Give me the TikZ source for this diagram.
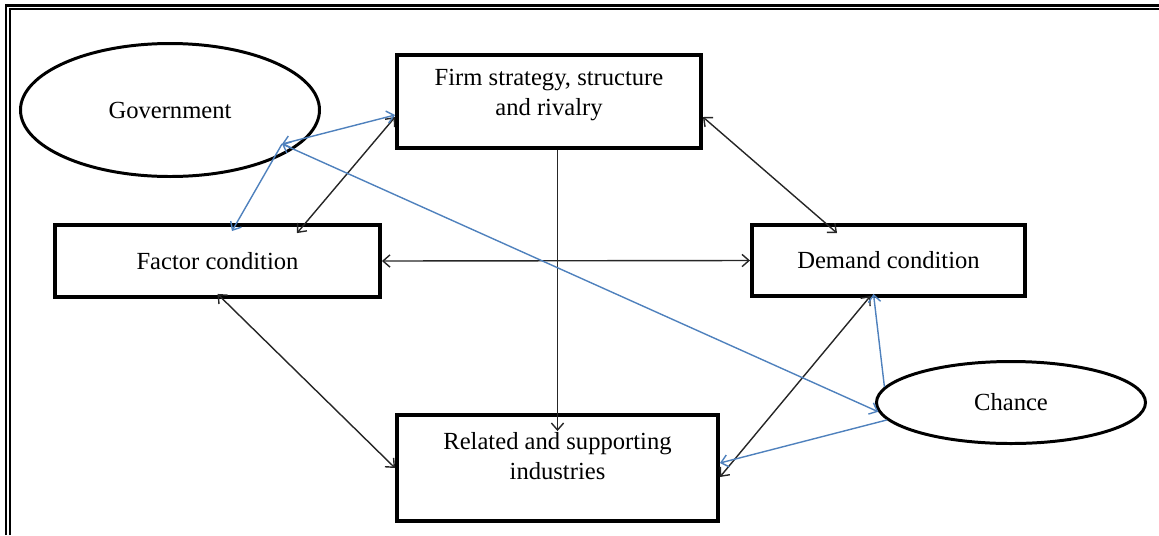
\documentclass[tikz,border=0pt]{standalone}
\usepackage{fontspec}
\setmainfont{Liberation Serif}
\usepackage{tikz}
\usetikzlibrary{calc,shapes.geometric,arrows.meta}
\definecolor{linkblue}{RGB}{79,129,189}

\begin{document}
\begin{tikzpicture}[
box/.style={
	draw, rectangle, line width=2.2pt,
	inner sep=0pt, align=center
},
oval/.style={
	draw, ellipse, line width=1.7pt,
	inner sep=0pt
},
txt/.style={align=center, inner sep=0pt},
link/.style={<->, line width=0.8pt, black!85},
bluelink/.style={line width=0.8pt, draw=linkblue},
>={Straight Barb[length=4pt,width=7pt]}, font=\fontsize{14}{17}\selectfont
]
\useasboundingbox (0,0) rectangle (23.18,-10.7);
% double frame
\draw[line width=1.3pt] (0.12,-10.7) |- (23.18,-0.11);
\draw[line width=0.8pt] (0.2,-10.7) |- (23.18,-0.18);

\node[box, minimum width=6.08cm, minimum height=1.86cm] (firm) at (10.98,-2.03) {};
\node[txt] (firmtext) at ([yshift=0.13cm]firm.center) {Firm strategy, structure\\and rivalry};
\node[box, minimum width=6.5cm, minimum height=1.44cm] (factor) at (4.35,-5.22) {Factor condition};
\node[box, minimum width=5.46cm, minimum height=1.42cm] (demand) at (17.77,-5.21) {Demand condition};
\node[box, minimum width=6.42cm, minimum height=2.12cm] (related) at (11.15,-9.36) {};
\node[txt] (relatedtext) at ([yshift=0.24cm]related.center) {Related and supporting\\industries};
\node[oval, minimum width=5.98cm, minimum height=2.66cm] (gov) at (3.4,-2.2) {Government};
\node[oval, minimum width=5.38cm, minimum height=1.64cm] (chance) at (20.22,-8.05) {Chance};

% the four boxes
\draw[link] ([yshift=-0.31cm]firm.west) -- ([xshift=1.59cm,yshift=-0.2cm]factor.north);
\draw[link] ([yshift=-0.31cm]firm.east) -- ([xshift=-1.03cm,yshift=-0.2cm]demand.north);
\draw[link] (factor.east) -- (demand.west);
\draw[link,->] (firm.south -| related.north) -- ([yshift=-0.36cm]related.north);
\draw[link] ([yshift=0.1cm]factor.south) -- (related.west);
\draw[link] ([xshift=-0.36cm,yshift=0.04cm]demand.south) -- ([yshift=-0.18cm]related.east);

% government and chance
\coordinate (hub) at ([xshift=2.24cm,yshift=-0.68cm]gov.center);
\draw[bluelink,<->] (hub) -- ([yshift=-0.27cm]firm.west);
\draw[bluelink,->] (hub) -- ([xshift=0.29cm,yshift=-0.16cm]factor.north);
\draw[bluelink,<->] (chance.184) -- (hub);
\draw[bluelink,->] (chance.173) -- ([xshift=-0.3cm,yshift=0.08cm]demand.south);
\draw[bluelink,->] (chance.188) -- ([yshift=0.1cm]related.east);
\end{tikzpicture}
\end{document}
